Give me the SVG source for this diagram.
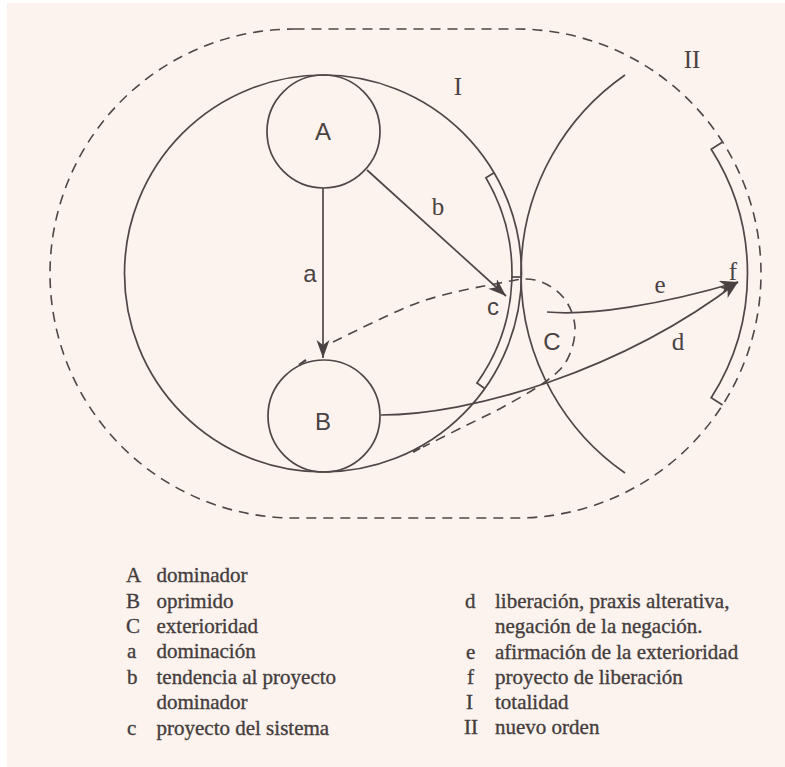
<svg xmlns="http://www.w3.org/2000/svg" width="785" height="767" viewBox="0 0 785 767">
<defs>
<style>
.ln{fill:none;stroke:#4f4747;stroke-width:1.7}
.dash{fill:none;stroke:#4f4747;stroke-width:1.6;stroke-dasharray:10 7}
.sans{font-family:"Liberation Sans",Arial,sans-serif;font-size:24px;fill:#4a4242}
.serif{font-family:"Liberation Serif","Times New Roman",serif;font-size:25px;fill:#4a4242}
.leg{font-family:"Liberation Serif","Times New Roman",serif;font-size:21px;fill:#453d3d;stroke:#453d3d;stroke-width:0.35}
</style>
<marker id="arr" markerUnits="userSpaceOnUse" markerWidth="20" markerHeight="14" refX="18" refY="6.5" orient="auto">
<path d="M0,0 L18,6.5 L0,13 L5,6.5 Z" fill="#4a4242"/>
</marker>
</defs>
<rect x="0" y="0" width="785" height="767" fill="#ffffff"/>
<rect x="7" y="3" width="778" height="764" fill="#fcf3ee"/>

<g id="outer-boundary">
<path class="dash" d="M294.5,29 L516.5,29 A244.5,244.5 0 0 1 516.5,518 L294.5,518 A244.5,244.5 0 0 1 294.5,29 Z"/>
</g>

<g id="totality-I">
<circle class="ln" cx="323" cy="273.5" r="198.5"/>
<path class="ln" d="M494.1,172.8 L485.9,177.7 A189,189 0 0 1 477,383 L484.7,388.5"/>
<path class="ln" d="M512,277 L521.5,277"/>
<text class="serif" x="458" y="95" text-anchor="middle" font-size="26">I</text>
</g>

<g id="new-order-II">
<path class="ln" d="M625,75 A242.4,242.4 0 0 0 625,473"/>
<path class="ln" d="M722.6,142 L711.2,149.2 A231,231 0 0 1 711.2,397.8 L722.6,405"/>
<text class="serif" x="692" y="68" text-anchor="middle" font-size="26">II</text>
</g>

<g id="node-A">
<circle class="ln" cx="323.5" cy="131.5" r="56.5"/>
<text class="sans" x="323" y="140" text-anchor="middle">A</text>
</g>

<g id="node-B">
<circle class="ln" cx="324" cy="416" r="56"/>
<text class="sans" x="323" y="430" text-anchor="middle">B</text>
</g>

<g id="node-C">
<path class="dash" d="M333,342 C347.5,335.3 392.2,311.8 420,302 C447.8,292.2 480.8,286.7 500,283 C519.2,279.3 524.5,277.7 535,280 C545.5,282.3 556.3,289.2 563,297 C569.7,304.8 574.3,316.5 575,327 C575.7,337.5 572,350.8 567,360 C562,369.2 555.7,374.2 545,382 C534.3,389.8 516.7,399.5 503,407 C489.3,414.5 476.3,420.3 463,427 C449.7,433.7 429.7,443.7 423,447"/>
<text class="sans" x="552" y="350" text-anchor="middle">C</text>
</g>

<g id="connectors">
<path class="ln" d="M323,188 L323,358" marker-end="url(#arr)"/>
<path class="ln" d="M367,170 L506,296" marker-end="url(#arr)"/>
<path class="ln" d="M381,415 C470,415 620,372 738,282" marker-end="url(#arr)"/>
<path class="ln" d="M547,312 C590,316 660,305 738,282" marker-end="url(#arr)"/>
<path d="M299,365 L306,360" stroke="#4f4747" stroke-width="2.2"/>
<path d="M413,452 L420,448" stroke="#4f4747" stroke-width="2.2"/>
<text class="sans" x="310" y="282" text-anchor="middle">a</text>
<text class="serif" x="438" y="215" text-anchor="middle">b</text>
<text class="sans" x="493" y="315" text-anchor="middle">c</text>
<text class="serif" x="678" y="350" text-anchor="middle">d</text>
<text class="serif" x="660" y="293" text-anchor="middle">e</text>
<text class="serif" x="733" y="280" text-anchor="middle">f</text>
</g>

<g id="legend">
<text class="leg" x="126" y="582">A</text><text class="leg" x="156.5" y="582">dominador</text>
<text class="leg" x="126" y="607.5">B</text><text class="leg" x="156.5" y="607.5">oprimido</text>
<text class="leg" x="126" y="633">C</text><text class="leg" x="156.5" y="633">exterioridad</text>
<text class="leg" x="127" y="658">a</text><text class="leg" x="156.5" y="658">dominación</text>
<text class="leg" x="127" y="684">b</text><text class="leg" x="156.5" y="684">tendencia al proyecto</text>
<text class="leg" x="156.5" y="709">dominador</text>
<text class="leg" x="127" y="734.5">c</text><text class="leg" x="156.5" y="734.5">proyecto del sistema</text>

<text class="leg" x="465" y="608">d</text><text class="leg" x="495" y="608">liberación, praxis alterativa,</text>
<text class="leg" x="495" y="633">negación de la negación.</text>
<text class="leg" x="466" y="658.5">e</text><text class="leg" x="495" y="658.5">afirmación de la exterioridad</text>
<text class="leg" x="467" y="683.5">f</text><text class="leg" x="495" y="683.5">proyecto de liberación</text>
<text class="leg" x="466" y="708.5">I</text><text class="leg" x="495" y="708.5">totalidad</text>
<text class="leg" x="464" y="734">II</text><text class="leg" x="495" y="734">nuevo orden</text>
</g>
</svg>
